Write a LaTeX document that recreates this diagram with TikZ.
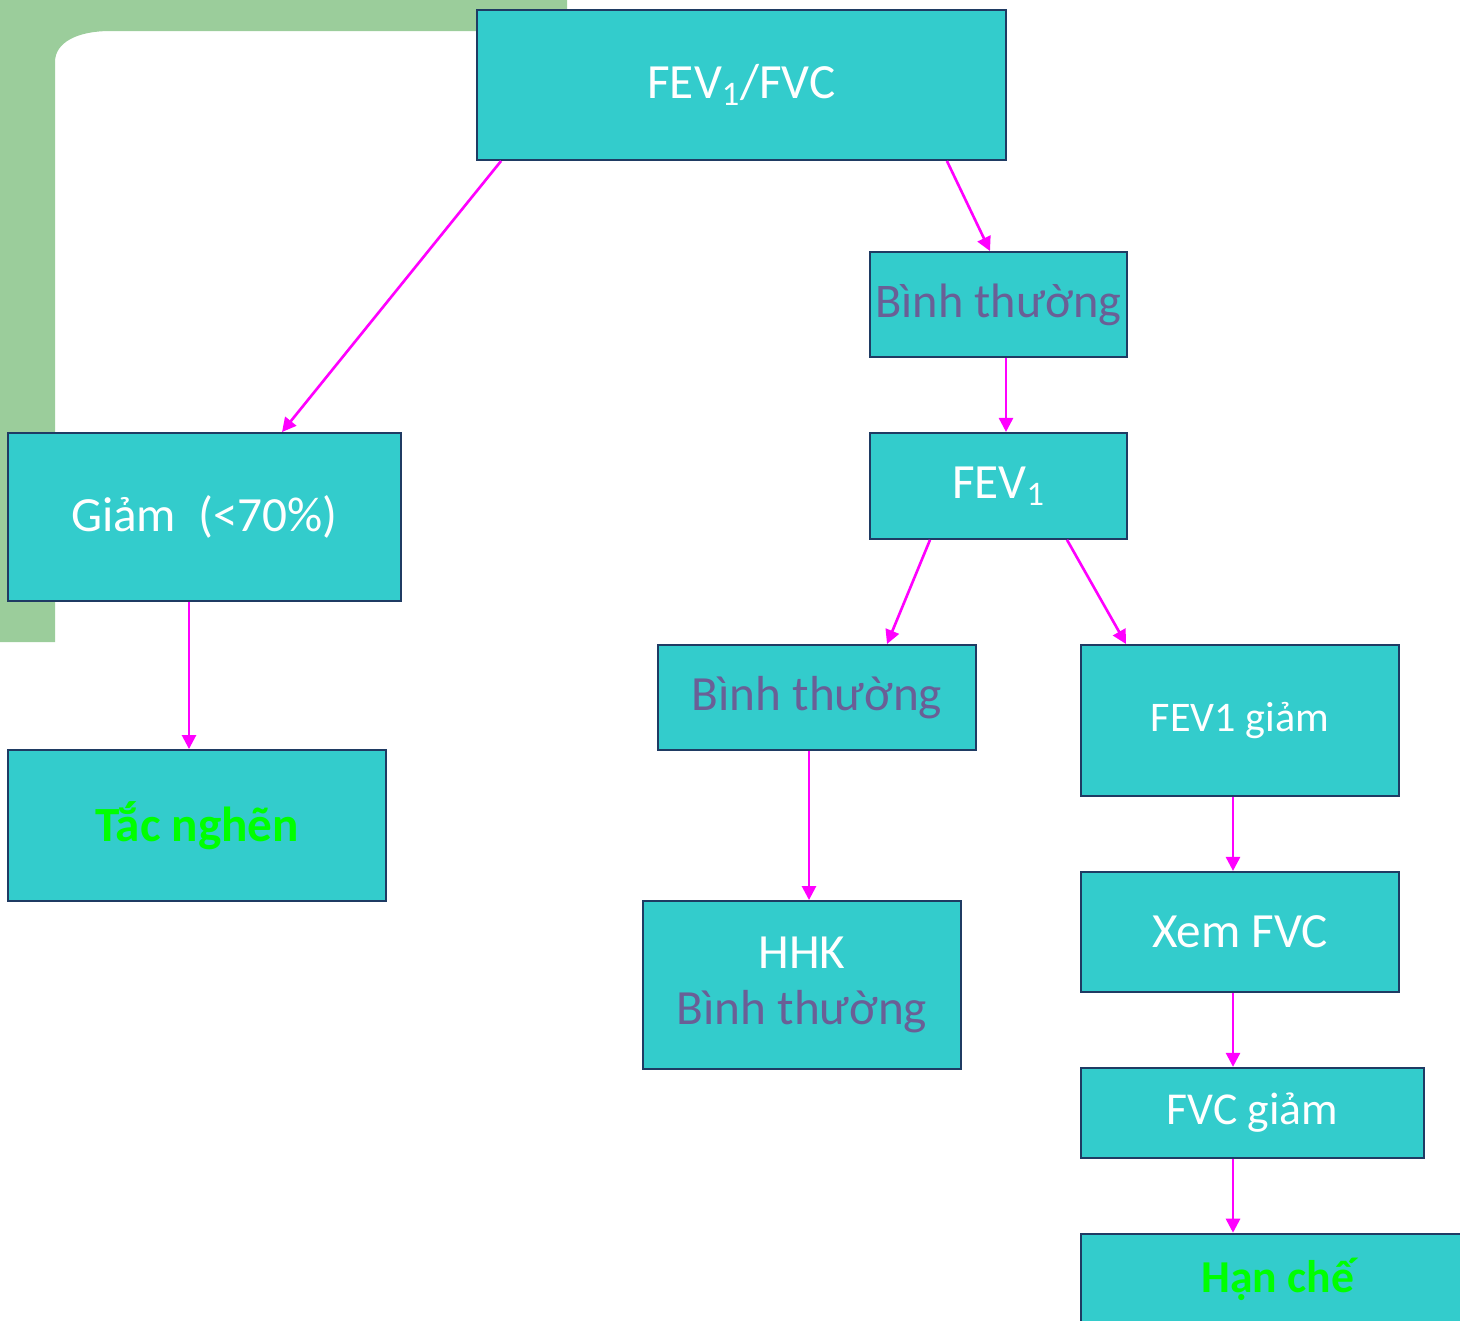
\documentclass[tikz,border=0pt]{standalone}
\usepackage{fontspec}
\setmainfont{Carlito}
\usetikzlibrary{shapes,arrows.meta,positioning,calc}
\definecolor{boxfill}{HTML}{33CCCC}
\definecolor{boxline}{HTML}{1F3B63}
\definecolor{leaf}{HTML}{9BCD9B}
\definecolor{normal}{HTML}{6A5F96}
\definecolor{result}{HTML}{00FF00}
\definecolor{flow}{HTML}{FF00FF}
\tikzstyle{box} = [draw=boxline,line width=1.1pt,fill=boxfill,text=white,align=center,inner sep=0,font=\fontsize{28}{32}\selectfont]
\tikzstyle{link} = [-{Triangle[length=8pt,width=8pt]},draw=flow,fill=flow,line width=1.5pt]
\def \px {0.02cm}

\begin{document}
\begin{tikzpicture}[x=\px, y=-\px, node distance=1.48cm]
      \useasboundingbox (0,0) rectangle (1460,1320);
      \clip (0,0) rectangle (1460,1320);
      \fill[leaf] (0,0) -- (567,0) -- (567,31) -- (110,31) .. controls (78,31) and (55,42) .. (55,62) -- (55,642) -- (0,642) -- cycle;
      \node[box,minimum width=10.58cm,minimum height=3cm] (ratio) at (741.5,85) {FEV\textsubscript{1}/FVC};
      \node[box,minimum width=5.14cm,minimum height=2.1cm,text=normal,font=\fontsize{27.5}{32}\selectfont] (binh1) at (998.5,304.5) {Bình thường};
      \node[box,minimum width=5.14cm,minimum height=2.12cm,below=of binh1] (fev1) {FEV\textsubscript{1}};
      \node[box,minimum width=7.86cm,minimum height=3.36cm] (giam) at (204.5,517) {Giảm\ \ (<70\%)};
      \node[box,minimum width=7.56cm,minimum height=3.02cm,text=result,font=\fontsize{28}{32}\selectfont\bfseries] (tac) at (197,825.5) {Tắc nghẽn};
      \node[box,minimum width=6.36cm,minimum height=2.1cm,text=normal] (binh2) at (817,697.5) {Bình thường};
      \node[box,minimum width=6.36cm,minimum height=3.36cm] (hhk) at (802,985) {HHK\\{\color{normal}Bình thường}};
      \node[box,minimum width=6.36cm,minimum height=3.02cm,font=\fontsize{24}{30}\selectfont] (drop) at (1240,720.5) {FEV1 giảm};
      \node[box,minimum width=6.36cm,minimum height=2.4cm,below=of drop] (xem) {Xem FVC};
      \node[box,minimum width=6.86cm,minimum height=1.8cm,below=of xem.south west,anchor=north west,font=\fontsize{26}{32}\selectfont] (fvc) {FVC giảm};
      \node[box,minimum width=7.88cm,minimum height=1.84cm,below=of fvc.south west,anchor=north west,text=result,font=\fontsize{26}{32}\selectfont\bfseries] (hanche) {Hạn chế};
      \coordinate (out1) at ($(binh1.south)+(7.5,0)$);
      \coordinate (out2) at ($(giam.south)+(-15.5,0)$);
      \coordinate (out3) at ($(binh2.south)+(-8,0)$);
      \coordinate (out4) at ($(drop.south)+(-7,0)$);
      \coordinate (out5) at ($(xem.south)+(-7,0)$);
      \coordinate (out6) at (out5 |- fvc.south);
      \draw[link] ($(ratio.south west)+(25,0)$) -- ($(giam.north)+(77.5,0)$);
      \draw[link] ($(ratio.south east)+(-60,0)$) -- ($(binh1.north)+(-8.5,0)$);
      \draw[link] (out1) -- (out1 |- fev1.north);
      \draw[link] ($(fev1.south)+(-68.5,0)$) -- ($(binh2.north)+(70,0)$);
      \draw[link] ($(fev1.south)+(68.5,0)$) -- ($(drop.north west)+(46,0)$);
      \draw[link] (out2) -- (out2 |- tac.north);
      \draw[link] (out3) -- (out3 |- hhk.north);
      \draw[link] (out4) -- (out4 |- xem.north);
      \draw[link] (out5) -- (out5 |- fvc.north);
      \draw[link] (out6) -- (out6 |- hanche.north);
\end{tikzpicture}
\end{document}
